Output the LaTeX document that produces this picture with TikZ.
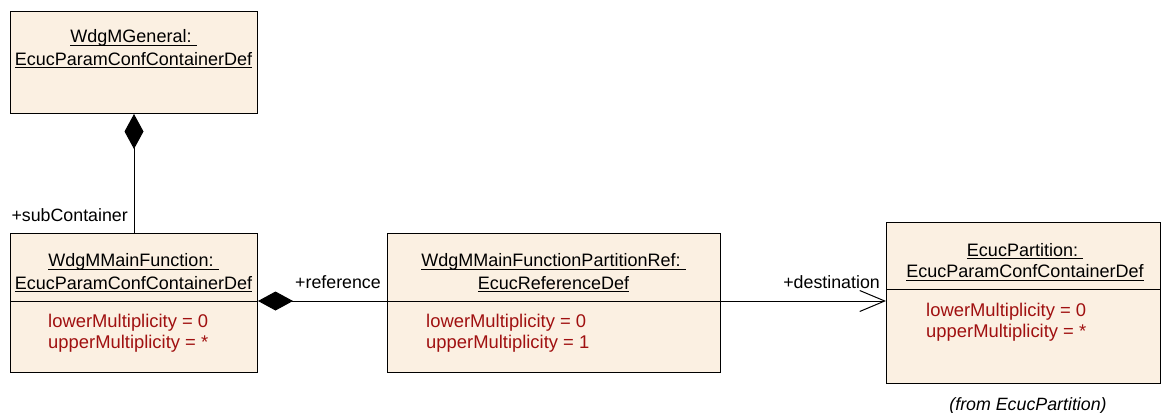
\documentclass[tikz,border=0pt]{standalone}
\usepackage{fontspec}
\setmainfont{Liberation Sans}
\usetikzlibrary{arrows.meta}
\definecolor{classfill}{RGB}{251,240,226}
\definecolor{attrred}{RGB}{160,16,16}
% underline at a fixed depth, independent of descenders
\newcommand\umlname[1]{\setbox0\hbox{#1}\rlap{\copy0}\rule[-2.6pt]{\wd0}{0.8pt}}
\tikzset{
  classbox/.style={draw=black, line width=1pt, fill=classfill, rectangle,
    anchor=north west, inner sep=0pt},
  sepline/.style={draw=black, line width=1pt},
  title/.style={anchor=base, inner sep=0pt, font=\fontsize{18}{22}\selectfont},
  attr/.style={anchor=base west, inner sep=0pt, text=attrred,
    font=\fontsize{18.4}{22}\selectfont},
  role/.style={anchor=base east, inner sep=0pt, font=\fontsize{17.8}{20}\selectfont},
  note/.style={anchor=base, inner sep=0pt, font=\fontsize{17.8}{20}\selectfont\itshape},
  conn/.style={draw=black, line width=1pt},
  comp/.style={conn, {Diamond[length=35pt,width=19pt]}-},
  nav/.style={conn, -{Straight Barb[length=25pt,width=21pt]}},
}
\begin{document}
\begin{tikzpicture}[x=1pt,y=-1pt]
\useasboundingbox (0,0) rectangle (1161,412);

% class boxes
\node[classbox, minimum width=247pt, minimum height=102pt] (gen) at (10,11) {};
\node[classbox, minimum width=247pt, minimum height=139pt] (mf) at (10,233) {};
\node[classbox, minimum width=333pt, minimum height=139pt] (ref) at (387,233) {};
\node[classbox, minimum width=274pt, minimum height=161pt] (part) at (886,222) {};

% compartment separators
\coordinate (mfsep) at (10,301);
\coordinate (partsep) at (886,289);
\draw[sepline] (mf.west |- mfsep) -- (mf.east |- mfsep);
\draw[sepline] (ref.west |- mfsep) -- (ref.east |- mfsep);
\draw[sepline] (part.west |- partsep) -- (part.east |- partsep);

% WdgMGeneral
\node[title] (gen-n1) at (133.5,43) {\umlname{WdgMGeneral:\ }};
\node[title] (gen-n2) at (133.5,65.5) {\umlname{EcucParamConfContainerDef}};

% WdgMMainFunction
\node[title] (mf-n1) at (133.5,266.7) {\umlname{WdgMMainFunction:\ }};
\node[title] (mf-n2) at (133.5,289) {\umlname{EcucParamConfContainerDef}};
\node[attr] (mf-a1) at (48,327.5) {lowerMultiplicity = 0};
\node[attr] (mf-a2) at (48,348.5) {upperMultiplicity = *};

% WdgMMainFunctionPartitionRef
\node[title] (ref-n1) at (553.5,266.7) {\umlname{WdgMMainFunctionPartitionRef:\ }};
\node[title] (ref-n2) at (553.5,289) {\umlname{EcucReferenceDef}};
\node[attr] (ref-a1) at (426,327.5) {lowerMultiplicity = 0};
\node[attr] (ref-a2) at (426,348.5) {upperMultiplicity = 1};

% EcucPartition
\node[title] (part-n1) at (1025,256) {\umlname{EcucPartition:\ }};
\node[title] (part-n2) at (1025,277.7) {\umlname{EcucParamConfContainerDef}};
\node[attr] (part-a1) at (926,316) {lowerMultiplicity = 0};
\node[attr] (part-a2) at (926,337) {upperMultiplicity = *};
\node[note] (part-from) at (1028,410) {(from EcucPartition)};

% associations
\draw[comp] (gen.south) -- (mf.north);
\draw[comp] (mf.east |- mfsep) -- (ref.west |- mfsep);
\draw[nav] (ref.east |- mfsep) -- (part.west |- mfsep);

% role names
\node[role] (r-sub) at (128,221.7) {+subContainer};
\node[role] (r-ref) at (381,288.3) {+reference};
\node[role] (r-dest) at (880,288.3) {+destination};
\end{tikzpicture}
\end{document}
